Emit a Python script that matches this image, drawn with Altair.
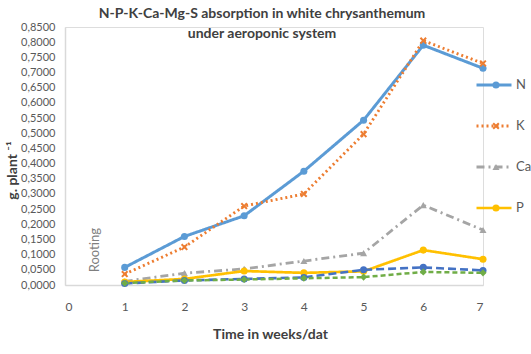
import altair as alt
import pandas as pd

weeks = [1, 2, 3, 4, 5, 6, 7]
series_names = ["N", "K", "Ca", "P", "Mg", "S"]
N = [0.058, 0.160, 0.228, 0.375, 0.543, 0.790, 0.714]
K = [0.036, 0.125, 0.260, 0.300, 0.497, 0.805, 0.730]
Ca = [0.012, 0.039, 0.053, 0.079, 0.105, 0.263, 0.181]
P = [0.010, 0.020, 0.046, 0.040, 0.045, 0.115, 0.085]
Mg = [0.005, 0.015, 0.020, 0.025, 0.050, 0.058, 0.048]
S = [0.006, 0.015, 0.018, 0.022, 0.026, 0.043, 0.040]
x_ticks = [0, 1, 2, 3, 4, 5, 6, 7]
y_ticks = [round(i * 0.05, 2) for i in range(18)]
legend_items = ["N", "K", "Ca", "P"]

colors = ["#5b9bd5", "#ed7d31", "#a5a5a5", "#ffc000", "#4472c4", "#70ad47"]
dashes = [[1, 0], [2, 3], [8, 4, 2, 4], [1, 0], [8, 4], [5, 3]]
widths = [3, 2.5, 2, 2, 2, 2]
XPATH = "M-1,-0.6L-0.6,-1L0,-0.4L0.6,-1L1,-0.6L0.4,0L1,0.6L0.6,1L0,0.4L-0.6,1L-1,0.6L-0.4,0Z"
shapes = ["circle", XPATH, "triangle-up", "circle", "circle", "diamond"]

values = {"N": N, "K": K, "Ca": Ca, "P": P, "Mg": Mg, "S": S}
rows = []
for i, s in enumerate(series_names):
    for w, v in zip(weeks, values[s]):
        rows.append({"week": w, "value": v, "series": s, "ord": i})
df = pd.DataFrame(rows)

ann = pd.DataFrame({"week": [0.5], "value": [0.115], "label": ["Rooting"]})

FONT = "Lato"

x_enc = alt.X("week:Q", scale=alt.Scale(domain=[0, 7], nice=False),
              axis=alt.Axis(values=x_ticks, format="d", title="Time in weeks/dat",
                            labelFontSize=12, labelPadding=16, labelColor="#595959",
                            titleFontSize=14, titleFontWeight="bold", titleColor="#404040",
                            titleX=205, titleY=49, titleAlign="center", titleBaseline="middle",
                            ticks=False, grid=False, domainColor="#d9d9d9", domainWidth=1.5,
                            labelFont=FONT, titleFont=FONT))
y_enc = alt.Y("value:Q", scale=alt.Scale(domain=[0, 0.85], nice=False),
              axis=alt.Axis(values=y_ticks,
                            labelExpr="replace(format(datum.value, '.4f'), '.', ',')",
                            title="g. plant ⁻¹", titleAngle=270, titleX=-53, titleY=143,
                            titleAlign="center", titleBaseline="middle",
                            titleFontSize=14, titleFontWeight="bold", titleColor="#404040",
                            labelFontSize=11, labelColor="#595959", labelPadding=10,
                            ticks=False, grid=False, domainColor="#d9d9d9", domainWidth=1.5,
                            labelFont=FONT, titleFont=FONT))

line_legend = alt.Legend(title=None, orient="none", legendX=422.5, legendY=51.5,
                         direction="vertical", values=legend_items,
                         symbolType="M-3.5,0H3.5", symbolSize=100, symbolStrokeWidth=2.5,
                         labelFont=FONT, labelFontSize=13, labelColor="#595959",
                         labelOffset=15.5, rowPadding=27, padding=0)
point_legend = alt.Legend(title=None, orient="none", legendX=424.5, legendY=51.5,
                          direction="vertical", values=legend_items,
                          symbolSize=50, symbolStrokeWidth=0,
                          labelFont=FONT, labelFontSize=13, labelExpr="''",
                          rowPadding=27, padding=0)

lines = alt.Chart(df).mark_line().encode(
    x=x_enc, y=y_enc,
    color=alt.Color("series:N", scale=alt.Scale(domain=series_names, range=colors), legend=line_legend),
    strokeDash=alt.StrokeDash("series:N", scale=alt.Scale(domain=series_names, range=dashes), legend=line_legend),
    strokeWidth=alt.StrokeWidth("series:N", scale=alt.Scale(domain=series_names, range=widths), legend=None),
    order=alt.Order("week:Q"),
)

points = alt.Chart(df).mark_point(filled=True, size=50, opacity=1).encode(
    x=x_enc, y=y_enc,
    color=alt.Color("series:N", scale=alt.Scale(domain=series_names, range=colors), legend=point_legend),
    shape=alt.Shape("series:N", scale=alt.Scale(domain=series_names, range=shapes), legend=point_legend),
)

text = alt.Chart(ann).mark_text(angle=270, color="#7f7f7f", fontSize=13, font=FONT,
                                 align="center", baseline="middle").encode(
    x=x_enc, y=y_enc, text="label:N")

chart = alt.layer(lines, points, text).resolve_scale(
    color="independent", shape="independent", strokeDash="independent", strokeWidth="independent"
).resolve_legend(
    color="independent", shape="independent", strokeDash="independent"
).properties(
    width=418, height=258,
    autosize=alt.AutoSizeParams(type="none"),
    padding={"left": 65, "top": 27, "right": 48, "bottom": 69},
    title=alt.Title(["N-P-K-Ca-Mg-S absorption in white chrysanthemum", "under aeroponic system"],
                    fontSize=14, fontWeight="bold", font=FONT, color="#404040",
                    anchor="middle", dx=-12, offset=-20, lineHeight=20),
).configure_view(strokeWidth=0).configure(background="white")

chart.save("out.html", embed_options={"renderer": "svg", "actions": False})
